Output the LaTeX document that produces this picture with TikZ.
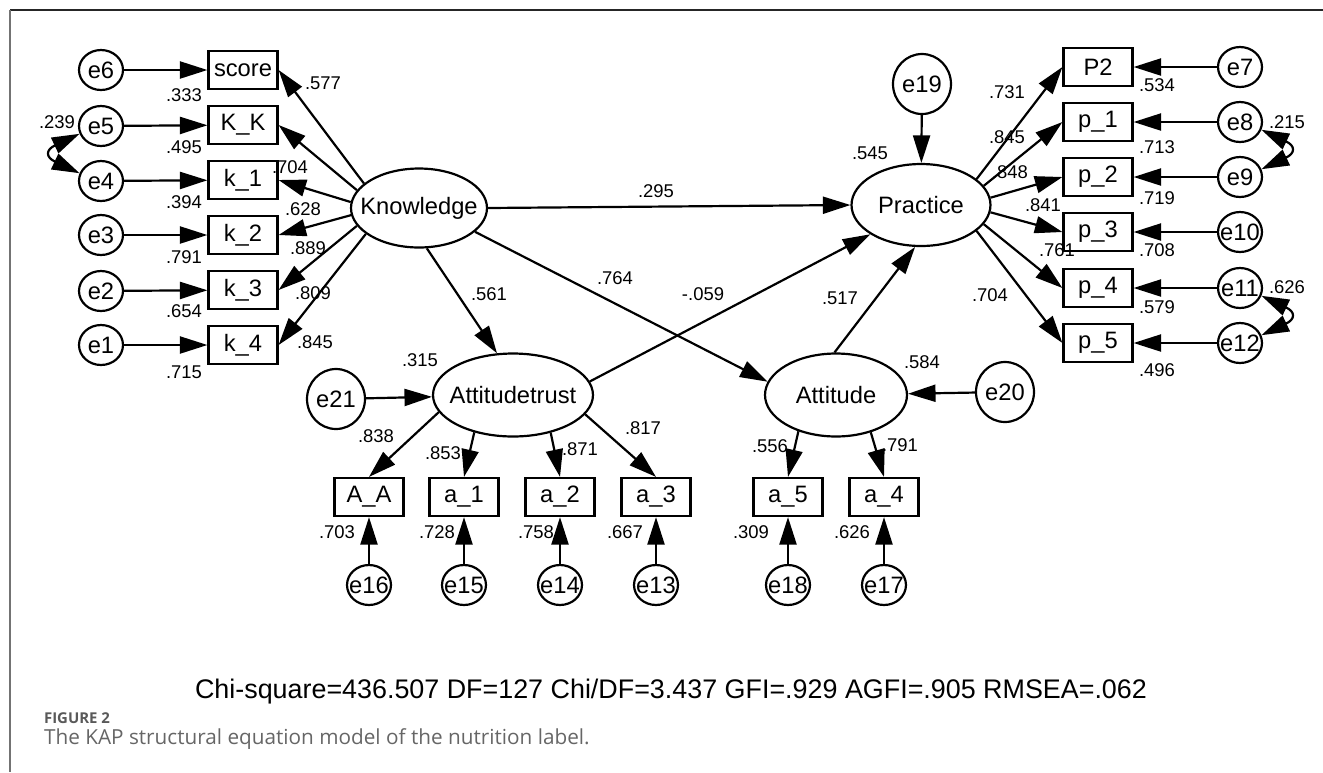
\documentclass[tikz,border=0pt]{standalone}
\usepackage{fontspec}
\setmainfont{Liberation Sans}
\newfontfamily\capfont{Open Sans}
\usetikzlibrary{shapes.geometric,arrows.meta}

\begin{document}
\begin{tikzpicture}[x=0.02cm,y=-0.02cm,line width=1.25pt,
	font=\fontsize{13.5}{16}\selectfont,
	>={Triangle[length=0.55cm,width=0.34cm]},
	slim/.style={execute at begin node={\hbox to 0pt\bgroup\hss},
		execute at end node={\hss\egroup}},
	obs/.style={draw,rectangle,slim,minimum width=1.38cm,minimum height=0.76cm,inner sep=0pt},
	err/.style={draw,ellipse,slim,minimum width=0.88cm,minimum height=0.8cm,inner sep=0pt},
	bigerr/.style={draw,ellipse,slim,minimum width=1.16cm,minimum height=1.2cm,inner sep=0pt},
	lat/.style={draw,ellipse,slim,inner sep=0pt},
	num/.style={font=\fontsize{10.5}{12}\selectfont,inner sep=0pt}]

	\useasboundingbox (0,0) rectangle (1323,772);

	% frame coordinates
	\coordinate (TL) at (10,10);
	\coordinate (TR) at (1323,10);
	\coordinate (BL) at (10,772);

	\draw[line width=0.7pt,black!85] (TL) -- (TR);
	\draw[line width=0.7pt,black!55] (TL) -- (BL);

	% latent variables
	\node[lat,minimum width=2.72cm,minimum height=1.58cm] (Knowledge) at (419,208) {Knowledge};
	\node[lat,minimum width=2.78cm,minimum height=1.64cm] (Practice) at (921,205) {Practice};
	\node[lat,minimum width=3.2cm,minimum height=1.66cm] (Attitudetrust) at (513,395) {Attitudetrust};
	\node[lat,minimum width=2.84cm,minimum height=1.66cm] (Attitude) at (836,395) {Attitude};

	% knowledge items and errors
	\node[obs] (score) at (243,70) {score};
	\node[obs] (KK) at (243,125) {K\_K};
	\node[obs] (k1) at (243,180) {k\_1};
	\node[obs] (k2) at (243,235) {k\_2};
	\node[obs] (k3) at (243,290) {k\_3};
	\node[obs] (k4) at (243,345) {k\_4};

	\node[err] (e6) at (101,70) {e6};
	\node[err] (e5) at (101,126) {e5};
	\node[err] (e4) at (101,181) {e4};
	\node[err] (e3) at (101,235) {e3};
	\node[err] (e2) at (101,291) {e2};
	\node[err] (e1) at (101,345) {e1};

	% practice items and errors
	\node[obs] (P2) at (1098,67) {P2};
	\node[obs] (p1) at (1098,122) {p\_1};
	\node[obs] (p2) at (1098,177) {p\_2};
	\node[obs] (p3) at (1098,232) {p\_3};
	\node[obs] (p4) at (1098,288) {p\_4};
	\node[obs] (p5) at (1098,343) {p\_5};

	\node[err] (e7) at (1240,67) {e7};
	\node[err] (e8) at (1240,122) {e8};
	\node[err] (e9) at (1240,177) {e9};
	\node[err] (e10) at (1240,232) {e10};
	\node[err] (e11) at (1240,288) {e11};
	\node[err] (e12) at (1240,343) {e12};

	% attitude items and errors
	\node[obs] (AA) at (369,497) {A\_A};
	\node[obs] (a1) at (464,497) {a\_1};
	\node[obs] (a2) at (560,497) {a\_2};
	\node[obs] (a3) at (656,497) {a\_3};
	\node[obs] (a5) at (788,497) {a\_5};
	\node[obs] (a4) at (884,497) {a\_4};

	\node[err] (e16) at (369,585) {e16};
	\node[err] (e15) at (464,585) {e15};
	\node[err] (e14) at (560,585) {e14};
	\node[err] (e13) at (656,585) {e13};
	\node[err] (e18) at (788,585) {e18};
	\node[err] (e17) at (884,585) {e17};

	% disturbances
	\node[bigerr] (e19) at (922,84) {e19};
	\node[bigerr] (e21) at (336,399) {e21};
	\node[bigerr] (e20) at (1005,392) {e20};

	% loadings of knowledge
	\draw[->] (Knowledge.156) -- (score.east);
	\draw[->] (Knowledge.164) -- (KK.east);
	\draw[->] (Knowledge.175) -- (k1.east);
	\draw[->] (Knowledge.186) -- (k2.east);
	\draw[->] (Knowledge.196) -- (k3.east);
	\draw[->] (Knowledge.206) -- (k4.east);

	\draw[->] (e6) -- (score);
	\draw[->] (e5) -- (KK);
	\draw[->] (e4) -- (k1);
	\draw[->] (e3) -- (k2);
	\draw[->] (e2) -- (k3);
	\draw[->] (e1) -- (k4);
	\draw[<->] (e5.200) .. controls +(-34,16) and +(-34,-16) .. (e4.160);

	% loadings of practice
	\draw[->] (Practice.25) -- (P2.west);
	\draw[->] (Practice.17) -- (p1.west);
	\draw[->] (Practice.6) -- (p2.west);
	\draw[->] (Practice.-6) -- (p3.west);
	\draw[->] (Practice.-17) -- (p4.west);
	\draw[->] (Practice.-25) -- (p5.west);

	\draw[->] (e7) -- (P2);
	\draw[->] (e8) -- (p1);
	\draw[->] (e9) -- (p2);
	\draw[->] (e10) -- (p3);
	\draw[->] (e11) -- (p4);
	\draw[->] (e12) -- (p5);
	\draw[<->] (e8.-20) .. controls +(34,16) and +(34,-16) .. (e9.20);
	\draw[<->] (e11.-20) .. controls +(34,16) and +(34,-16) .. (e12.20);

	% loadings of attitudes
	\draw[->] (Attitudetrust.193) -- (AA.north);
	\draw[->] (Attitudetrust.224) -- (a1.north);
	\draw[->] (Attitudetrust.315) -- (a2.north);
	\draw[->] (Attitudetrust.345) -- (a3.north);
	\draw[->] (Attitude.224) -- (a5.north);
	\draw[->] (Attitude.313) -- (a4.north);

	\draw[->] (e16) -- (AA);
	\draw[->] (e15) -- (a1);
	\draw[->] (e14) -- (a2);
	\draw[->] (e13) -- (a3);
	\draw[->] (e18) -- (a5);
	\draw[->] (e17) -- (a4);

	% structural paths
	\draw[->] (Knowledge.east) -- (Practice.west);
	\draw[->] (Knowledge.281) -- (Attitudetrust.111);
	\draw[->] (Knowledge.337) -- (Attitude.169);
	\draw[->] (Attitudetrust.10) -- (Practice.210);
	\draw[->] (Attitude.92) -- (Practice.262);
	\draw[->] (e19) -- (Practice);
	\draw[->] (e21) -- (Attitudetrust);
	\draw[->] (e20) -- (Attitude);

	% estimates, left side
	\node[num] (wscore) at (323,83) {.577};
	\node[num] (wKK) at (290,167) {.704};
	\node[num] (wk1) at (303,209) {.628};
	\node[num] (wk2) at (308,248) {.889};
	\node[num] (wk3) at (313,293) {.809};
	\node[num] (wk4) at (315,342) {.845};
	\node[num] (rscore) at (184,95) {.333};
	\node[num] (rKK) at (184,147) {.495};
	\node[num] (rk1) at (184,202) {.394};
	\node[num] (rk2) at (184,257) {.791};
	\node[num] (rk3) at (184,311) {.654};
	\node[num] (rk4) at (184,372) {.715};
	\node[num] (c54) at (57,122) {.239};

	% estimates, right side
	\node[num] (wP2) at (1007,92) {.731};
	\node[num] (wp1) at (1007,137) {.845};
	\node[num] (wp2) at (1010,172) {.848};
	\node[num] (wp3) at (1043,205) {.841};
	\node[num] (wp4) at (1057,250) {.761};
	\node[num] (wp5) at (990,295) {.704};
	\node[num] (rP2) at (1157,85) {.534};
	\node[num] (rp1) at (1157,147) {.713};
	\node[num] (rp2) at (1157,198) {.719};
	\node[num] (rp3) at (1157,250) {.708};
	\node[num] (rp4) at (1157,307) {.579};
	\node[num] (rp5) at (1157,370) {.496};
	\node[num] (c89) at (1287,122) {.215};
	\node[num] (c1112) at (1287,287) {.626};

	% estimates, middle
	\node[num] (rPractice) at (870,153) {.545};
	\node[num] (bKP) at (656,191) {.295};
	\node[num] (bKT) at (489,294) {.561};
	\node[num] (bKA) at (615,278) {.764};
	\node[num] (bTP) at (703,294) {-.059};
	\node[num] (bAP) at (840,298) {.517};
	\node[num] (rTrust) at (420,360) {.315};
	\node[num] (rAtt) at (922,362) {.584};

	% estimates, bottom
	\node[num] (wAA) at (376,436) {.838};
	\node[num] (wa1) at (443,453) {.853};
	\node[num] (wa2) at (580,449) {.871};
	\node[num] (wa3) at (643,428) {.817};
	\node[num] (wa5) at (770,446) {.556};
	\node[num] (wa4) at (900,445) {.791};
	\node[num] (rAA) at (337,532) {.703};
	\node[num] (ra1) at (437,532) {.728};
	\node[num] (ra2) at (536,532) {.758};
	\node[num] (ra3) at (625,532) {.667};
	\node[num] (ra5) at (751,532) {.309};
	\node[num] (ra4) at (852,532) {.626};

	% fit indices and caption
	\node[font=\fontsize{15.3}{18}\selectfont,anchor=base] (fit) at (671,698)
		{Chi-square=436.507 DF=127 Chi/DF=3.437 GFI=.929 AGFI=.905 RMSEA=.062};
	\node[font=\capfont\bfseries\fontsize{8.5}{10}\selectfont,text=black!65,anchor=base west,inner sep=0pt] (fignum) at (43,723) {FIGURE 2};
	\node[font=\capfont\fontsize{11.8}{14}\selectfont,text=black!60,anchor=base west,inner sep=0pt] (figcap) at (43,744)
		{The KAP structural equation model of the nutrition label.};
\end{tikzpicture}
\end{document}
